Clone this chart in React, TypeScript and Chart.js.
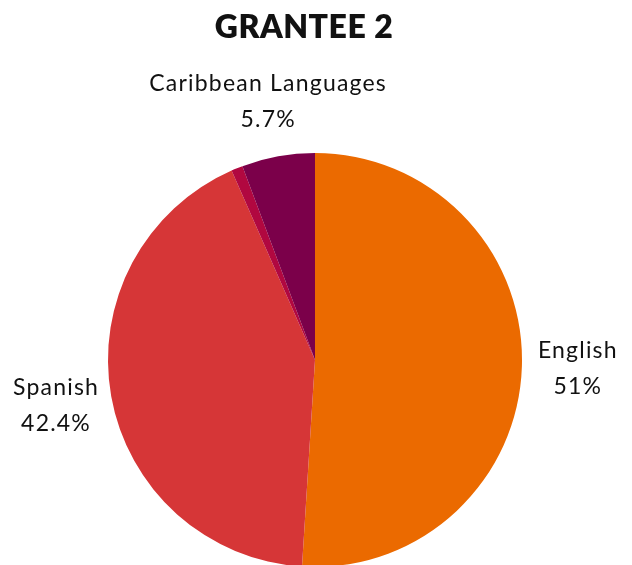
import React, { useEffect, useRef } from "react";
import { Chart, registerables } from "chart.js";

Chart.register(...registerables);

const TITLE = "GRANTEE 2";
const categories = ["English", "Spanish", "Other", "Caribbean Languages"];
const values = [51, 42.4, 0.9, 5.7];
const valueLabels = ["51%", "42.4%", "", "5.7%"];
const showLabel = [true, true, false, true];
const colors = ["#EB6A00", "#D63637", "#B10840", "#7B004A"];

const FONT = "Lato, 'Open Sans', sans-serif";

const labelPlugin = {
  id: "outerLabels",
  afterDraw(chart: any) {
    const ctx = chart.ctx;
    const meta = chart.getDatasetMeta(0);
    ctx.save();
    // title
    ctx.fillStyle = "#111";
    ctx.font = `800 32px ${FONT}`;
    ctx.textAlign = "center";
    ctx.textBaseline = "middle";
    (ctx as any).letterSpacing = "0.5px";
    ctx.fillText(TITLE, 304, 28);
    ctx.font = `400 23px ${FONT}`;
    (ctx as any).letterSpacing = "1.2px";
    meta.data.forEach((arc: any, i: number) => {
      if (!showLabel[i]) return;
      const { x, y, startAngle, endAngle, outerRadius } = arc.getProps(
        ["x", "y", "startAngle", "endAngle", "outerRadius"],
        true
      );
      const mid = (startAngle + endAngle) / 2;
      const r = outerRadius + 56;
      const cx = x + Math.cos(mid) * r;
      const cy = y + Math.sin(mid) * r;
      ctx.fillStyle = "#111";
      ctx.fillText(categories[i], cx, cy - 18);
      ctx.fillText(valueLabels[i], cx, cy + 18);
    });
    ctx.restore();
  },
};

export default function App() {
  const ref = useRef<HTMLCanvasElement>(null);
  useEffect(() => {
    if (!ref.current) return;
    const chart = new Chart(ref.current, {
      type: "pie",
      data: {
        labels: categories,
        datasets: [
          {
            data: values,
            backgroundColor: colors,
            borderWidth: 0,
          },
        ],
      },
      options: {
        animation: false,
        responsive: false,
        maintainAspectRatio: false,
        layout: { padding: { top: 153, bottom: 13, left: 0, right: 2 } },
        plugins: {
          legend: { display: false },
          tooltip: { enabled: false },
          title: { display: false },
        },
      },
      plugins: [labelPlugin],
    });
    return () => chart.destroy();
  }, []);
  return (
    <div style={{ position: "fixed", left: 0, top: 0, width: 632, height: 580, background: "#fff" }}>
      <canvas ref={ref} width={632} height={580} style={{ width: 632, height: 580, display: "block" }} />
    </div>
  );
}
